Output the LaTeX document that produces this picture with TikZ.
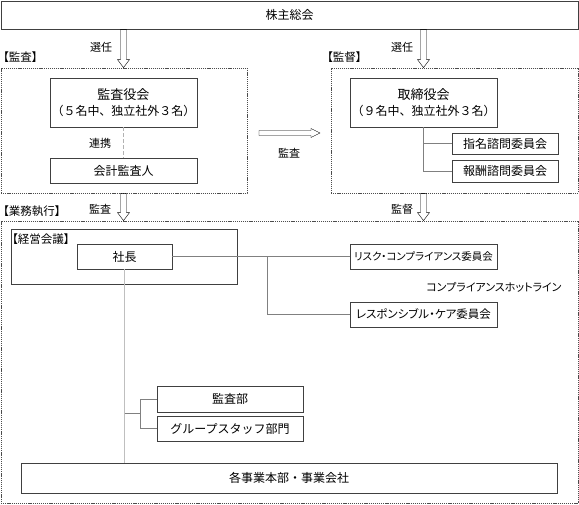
\documentclass[tikz,border=0pt]{standalone}
\usepackage{fontspec}
\setmainfont{Noto Sans CJK JP}
\newfontfamily\jpprop{Noto Sans CJK JP}[RawFeature=+palt]
\usetikzlibrary{calc}

\tikzset{
  box/.style={draw=black!75, line width=0.9pt, fill=white, inner sep=0pt,
    align=center, font=\fontsize{12}{16}\selectfont},
  region/.style={draw=black!70, line width=0.8pt, dash pattern=on 1.2pt off 0.9pt,
    inner sep=0pt},
  lbl/.style={inner sep=0pt, font=\fontsize{11}{13}\selectfont},
  tag/.style={lbl, anchor=west, font=\jpprop\fontsize{11.5}{13}\selectfont},
  link/.style={draw=black!50, line width=0.9pt},
  hollowdown/.style={draw=black!60, line width=0.8pt, fill=white, to path={
    ($(\tikztostart)+(-3,0)$) -- ($(\tikztotarget)+(-3,-8)$) -- ++(-3,0)
    -- (\tikztotarget) -- ++(6,-8) -- ++(-3,0) -- ($(\tikztostart)+(3,0)$) -- cycle}},
  hollowright/.style={draw=black!60, line width=0.8pt, fill=white, to path={
    ($(\tikztostart)+(0,-2.5)$) -- ($(\tikztotarget)+(-9,-2.5)$) -- ++(0,-2)
    -- (\tikztotarget) -- ++(-9,4.5) -- ++(0,-2) -- ($(\tikztostart)+(0,2.5)$) -- cycle}},
}

\begin{document}
\begin{tikzpicture}[x=1pt,y=-1pt]
\useasboundingbox (0,0) rectangle (579,505);
%
\node[box, minimum width=577, minimum height=28] (agm) at (289.5,15) {株主総会};
%
\node[region, minimum width=246, minimum height=125] (audreg) at (124,130.5) {};
\node[region, minimum width=247, minimum height=125] (supreg) at (454.5,130.5) {};
\node[region, minimum width=577, minimum height=282] (execreg) at (289.5,362) {};
\node[tag] (audlbl) at (3,57) {【監査】};
\node[tag] (suplbl) at (327,57) {【監督】};
\node[tag] (execlbl) at (3,211) {【業務執行】};
%
\node[box, minimum width=147, minimum height=49] (kansayaku) at (123.5,102.5) {%
  {\fontsize{13}{16}\selectfont 監査役会}\\（５名中、独立社外３名）};
\node[box, minimum width=147, minimum height=25] (auditor) at (123.5,170.5) {会計監査人};
\draw[draw=black!30, line width=1.2pt, dash pattern=on 4pt off 2pt] (kansayaku)--(auditor);
\node[lbl] (renkei) at (100,143) {連携};
%
\node[box, minimum width=147, minimum height=49] (board) at (423.5,102.5) {%
  {\fontsize{13}{16}\selectfont 取締役会}\\（９名中、独立社外３名）};
\node[box, minimum width=106, minimum height=21] (nomin) at (505,143.5) {指名諮問委員会};
\node[box, minimum width=106, minimum height=22] (remun) at (505,171) {報酬諮問委員会};
\draw[link] (board.south) |- (remun.west);
\draw[link] (board.south |- nomin.west) -- (nomin.west);
%
% arrows between the layers
\coordinate (s1) at (agm.south -| kansayaku.north);
\coordinate (t1) at (audreg.north -| kansayaku.north);
\coordinate (s2) at (agm.south -| board.north);
\coordinate (t2) at (supreg.north -| board.north);
\coordinate (s3) at (audreg.south -| kansayaku.north);
\coordinate (t3) at (execreg.north -| kansayaku.north);
\coordinate (s4) at (supreg.south -| board.north);
\coordinate (t4) at (execreg.north -| board.north);
\coordinate (m1) at (259,133);
\coordinate (m2) at (320,133);
\draw (s1) to[hollowdown] (t1);
\draw (s2) to[hollowdown] (t2);
\draw (s3) to[hollowdown] (t3);
\draw (s4) to[hollowdown] (t4);
\draw (m1) to[hollowright] (m2);
\node[lbl] (sel1) at (101,47) {選任};
\node[lbl] (sel2) at (402,47) {選任};
\node[lbl] (aud1) at (289,153) {監査};
\node[lbl] (aud2) at (100,209) {監査};
\node[lbl] (sup1) at (402,209) {監督};
%
\node[box, minimum width=226, minimum height=55] (meeting) at (124,256.5) {};
\node[tag] (meetlbl) at (12,239) {【経営会議】};
\node[box, minimum width=95, minimum height=25] (president) at (124.5,256.5) {社長};
%
\node[box, minimum width=147, minimum height=25] (risk) at (423.5,256.5) {%
  \jpprop\fontsize{10.5}{13}\selectfont リスク・コンプライアンス委員会};
\node[box, minimum width=147, minimum height=25] (rcare) at (423.5,314.5) {%
  \jpprop\fontsize{11.5}{13}\selectfont レスポンシブル・ケア委員会};
\node[lbl, font=\jpprop\fontsize{11}{13}\selectfont] (hotline) at (494,287) {コンプライアンスホットライン};
\coordinate (br) at (267,256.5);
\draw[link] (president.east) -- (risk.west);
\draw[link] (br) |- (rcare.west);
%
\node[box, minimum width=146, minimum height=26] (auditdept) at (230,399) {監査部};
\node[box, minimum width=146, minimum height=25] (staff) at (230,428.5) {グループスタッフ部門};
\node[box, minimum width=536, minimum height=30] (divisions) at (289,478) {各事業本部・事業会社};
\draw[draw=black!25, line width=1.2pt] (president.south) -- (president.south |- divisions.north);
\coordinate (bx) at (140,413);
\draw[link] (president.south |- bx) -- (bx);
\draw[link] (auditdept.west) -- (auditdept.west -| bx) -- (staff.west -| bx) -- (staff.west);
\end{tikzpicture}
\end{document}
